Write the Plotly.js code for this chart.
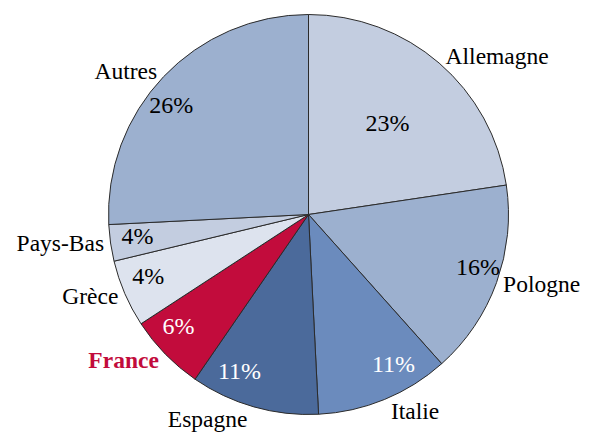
<!DOCTYPE html>
<html>
<head>
<meta charset="utf-8">
<script src="https://cdn.plot.ly/plotly-3.0.1.min.js"></script>
<style>
html,body{margin:0;padding:0;background:#fff;}
#chart text, #chart tspan{font-family:'Liberation Serif',serif !important;}
</style>
</head>
<body>
<div id="chart"></div>
<script>
// Data (slice shares, clockwise from 12 o'clock)
var categories = ['Allemagne', 'Pologne', 'Italie', 'Espagne', 'France', 'Grèce', 'Pays-Bas', 'Autres'];
var shares = [22.65, 15.75, 10.8, 10.4, 6.2, 5.45, 2.95, 25.8];
var pctLabels = [23, 16, 11, 11, 6, 4, 4, 26];

// Styles
var sliceColors = ['#c3cde0', '#9cb0cf', '#6b8bbd', '#4b6a9b', '#c20c3c', '#dde3ee', '#c3cde0', '#9cb0cf'];
var pctColors = ['#000', '#000', '#fff', '#fff', '#fff', '#000', '#000', '#000'];
var nameColors = categories.map(function (c) { return c === 'France' ? '#c20c3c' : '#000'; });
var nameText = categories.map(function (c) { return c === 'France' ? '<b>' + c + '</b>' : c; });
var pctText = pctLabels.map(function (v) { return v + '%'; });
var FONT = 'Liberation Serif';
var W = 591, H = 436;
var cx = 308.5, cy = 214.5, R = 200, Rp = 150;
function dom(r) {
  return {x: [(cx - r) / W, (cx + r) / W], y: [(H - cy - r) / H, (H - cy + r) / H]};
}
var transparent = categories.map(function () { return 'rgba(0,0,0,0)'; });

var mainPie = {
  type: 'pie', labels: categories, values: shares, sort: false, direction: 'clockwise', rotation: 0,
  domain: dom(R),
  marker: {colors: sliceColors, line: {color: '#2b2b2b', width: 1}},
  text: pctText, textinfo: 'text',
  textposition: categories.map(function (c, i) { return i === 0 ? 'inside' : 'none'; }),
  insidetextorientation: 'horizontal',
  textfont: {family: FONT, size: 24, color: pctColors},
  hoverinfo: 'none', showlegend: false
};
var namePie = {
  type: 'pie', labels: categories, values: shares, sort: false, direction: 'clockwise', rotation: 0,
  domain: dom(R),
  marker: {colors: transparent, line: {width: 0}},
  text: nameText, textinfo: 'text', textposition: 'outside',
  textfont: {family: FONT, size: 23.5, color: nameColors},
  hoverinfo: 'none', showlegend: false
};
var pctPie = {
  type: 'pie', labels: categories, values: shares, sort: false, direction: 'clockwise', rotation: 0,
  domain: dom(Rp),
  marker: {colors: transparent, line: {width: 0}},
  text: pctText, textinfo: 'text',
  textposition: categories.map(function (c, i) { return i === 0 ? 'none' : 'outside'; }),
  textfont: {family: FONT, size: 24, color: pctColors},
  hoverinfo: 'none', showlegend: false
};

Plotly.newPlot('chart', [mainPie, namePie, pctPie], {
  width: W, height: H, autosize: false,
  margin: {l: 0, r: 0, t: 0, b: 0},
  paper_bgcolor: '#fff', plot_bgcolor: '#fff',
  showlegend: false
}, {displayModeBar: false}).then(function (gd) {
  gd.querySelectorAll('text, tspan').forEach(function (el) {
    el.style.setProperty('font-family', "'Liberation Serif', serif", 'important');
  });
});
</script>
</body>
</html>
